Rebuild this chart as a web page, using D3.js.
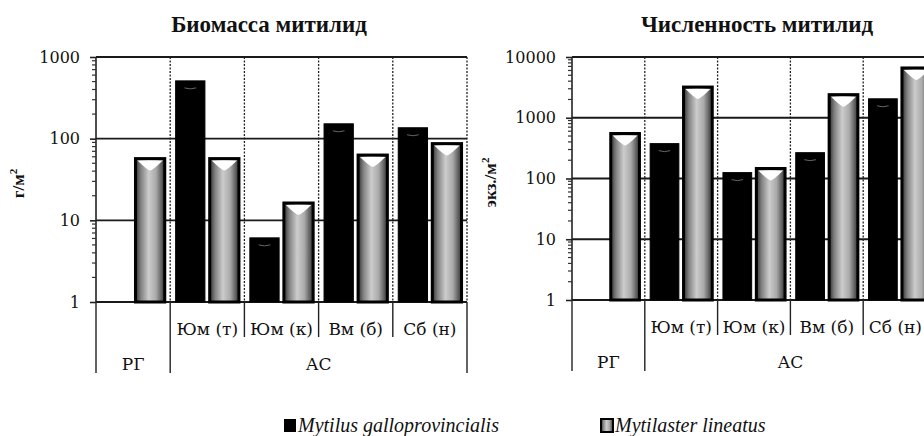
<!DOCTYPE html>
<html>
<head>
<meta charset="utf-8">
<script src="https://cdn.jsdelivr.net/npm/d3@7"></script>
<style>
body { margin: 0; background: #fff; }
text { font-family: "DejaVu Serif", serif; fill: #111; }
</style>
</head>
<body>
<svg class="canvas"></svg>
<script>
// categories and values
var categories = ["", "Юм (т)", "Юм (к)", "Вм (б)", "Сб (н)"];
var groupLabels = ["РГ", "АС"];
var groupSpans = [1, 4];
var series = ["Mytilus galloprovincialis", "Mytilaster lineatus"];

var biomassMytilus = [null, 510, 6.1, 152, 136];
var biomassMytilaster = [57, 57, 16.3, 63, 87];
var abundanceMytilus = [null, 375, 125, 266, 2050];
var abundanceMytilaster = [550, 3200, 146, 2400, 6600];

var biomassTicks = [1, 10, 100, 1000];
var abundanceTicks = [1, 10, 100, 1000, 10000];

var width = 924,
	height = 436;

var SUB_LINE = 35;   // length of divider below plot for categories
var GROUP_LINE = 71; // length of divider below plot for groups
var SERIF = "'Liberation Serif', 'Times New Roman', serif";

var canvas = d3.select(".canvas")
	.attr("width", width)
	.attr("height", height);

var defs = canvas.append("defs");
var grad = defs.append("linearGradient").attr("id", "greyBar")
	.attr("x1", "0%").attr("x2", "100%").attr("y1", "0%").attr("y2", "0%");
grad.selectAll("stop")
	.data([[0, "#303030"], [0.18, "#808080"], [0.45, "#cccccc"], [0.7, "#aaaaaa"], [1, "#333333"]])
	.enter().append("stop")
	.attr("offset", function(d) { return d[0]; })
	.attr("stop-color", function(d) { return d[1]; });

drawChart({
	left: 96, right: 467, top: 57, bottom: 302,
	domain: [1, 1000], ticks: biomassTicks,
	values: [biomassMytilus, biomassMytilaster],
	title: "Биомасса митилид", titleX: 269,
	yTitle: ["г/м", "2"], yTitleX: 24
});

drawChart({
	left: 572, right: 936, top: 57, bottom: 300,
	domain: [1, 10000], ticks: abundanceTicks,
	values: [abundanceMytilus, abundanceMytilaster],
	title: "Численность митилид", titleX: 757,
	yTitle: ["экз./м", "2"], yTitleX: 496
});

// legend
var legend = canvas.append("g").attr("transform", "translate(0,432)");
var legendX = [284, 601];
series.forEach(function(s, i) {
	var g = legend.append("g").attr("transform", "translate(" + legendX[i] + ",0)");
	g.append("rect")
		.attr("x", 0).attr("y", -13).attr("width", 12).attr("height", 13)
		.attr("fill", i == 0 ? "#000" : "url(#greyBar)")
		.attr("stroke", "#000").attr("stroke-width", i == 0 ? 0 : 2);
	g.append("text")
		.attr("x", 14).attr("y", 0)
		.style("font-family", SERIF)
		.style("font-size", "20px").style("font-style", "italic")
		.text(s);
});

function drawChart(o) {
	var chart = canvas.append("g");

	var x = d3.scaleBand().domain(d3.range(categories.length))
		.range([o.left, o.right])
		.paddingInner(0).paddingOuter(0);
	var x1 = d3.scaleBand().domain([0, 1])
		.range([0, x.bandwidth()])
		.paddingInner(0.14).paddingOuter(0.16);
	var y = d3.scaleLog().domain(o.domain).range([o.bottom, o.top]);

	// title
	chart.append("text")
		.attr("x", o.titleX).attr("y", 32)
		.attr("text-anchor", "middle")
		.style("font-family", SERIF)
		.style("font-size", "23px").style("font-weight", "bold")
		.text(o.title);

	// y title
	var yt = chart.append("text")
		.attr("transform", "translate(" + o.yTitleX + "," + ((o.top + o.bottom) / 2 + 4) + ") rotate(-90)")
		.attr("text-anchor", "middle")
		.style("font-family", SERIF)
		.style("font-size", "17px").style("font-weight", "bold");
	yt.append("tspan").text(o.yTitle[0]);
	yt.append("tspan").attr("dy", -7).style("font-size", "11px").text(o.yTitle[1]);

	// horizontal grid
	chart.selectAll(".hgrid").data(o.ticks)
		.enter().append("line")
		.attr("x1", o.left).attr("x2", o.right)
		.attr("y1", function(d) { return y(d); })
		.attr("y2", function(d) { return y(d); })
		.attr("stroke", "#1a1a1a").attr("stroke-width", 1.8);

	// vertical dividers inside plot (dotted)
	var bounds = d3.range(1, categories.length + 1).map(function(i) { return o.left + i * x.bandwidth(); });
	chart.selectAll(".vgrid").data(bounds)
		.enter().append("line")
		.attr("x1", function(d) { return d; }).attr("x2", function(d) { return d; })
		.attr("y1", o.top).attr("y2", o.bottom)
		.attr("stroke", "#222").attr("stroke-width", 1.3)
		.attr("stroke-dasharray", "2,1.5");

	// dividers below plot
	var groupEnds = [];
	var acc = 0;
	groupSpans.forEach(function(s) { acc += s; groupEnds.push(acc); });
	d3.range(0, categories.length + 1).forEach(function(i) {
		var isGroup = i == 0 || groupEnds.indexOf(i) >= 0;
		var xx = o.left + i * x.bandwidth();
		chart.append("line")
			.attr("x1", xx).attr("x2", xx)
			.attr("y1", o.bottom).attr("y2", o.bottom + (isGroup ? GROUP_LINE : SUB_LINE))
			.attr("stroke", "#222").attr("stroke-width", 1.4);
	});

	// category labels, kept inside the picture
	chart.selectAll(".cat").data(categories)
		.enter().append("text")
		.attr("x", function(d, i) { return x(i) + x.bandwidth() / 2; })
		.attr("y", o.bottom + 33)
		.attr("text-anchor", "middle")
		.style("font-size", "17px")
		.text(function(d) { return d; })
		.each(function() {
			var b = this.getBBox();
			if (b.x + b.width > width - 2) {
				d3.select(this).attr("x", +d3.select(this).attr("x") - (b.x + b.width - width + 2));
			}
		});

	// group labels
	var start = 0;
	groupLabels.forEach(function(g, i) {
		var cx = o.left + (start + groupSpans[i] / 2) * x.bandwidth();
		chart.append("text")
			.attr("x", cx).attr("y", o.bottom + 68)
			.attr("text-anchor", "middle")
			.style("font-size", "17px")
			.text(g);
		start += groupSpans[i];
	});

	// y axis with log ticks
	var axis = d3.axisLeft(y)
		.tickValues(o.ticks)
		.tickFormat(d3.format("d"))
		.tickSize(6)
		.tickPadding(10);
	var ax = chart.append("g")
		.attr("transform", "translate(" + o.left + ",0)")
		.call(axis);
	ax.select(".domain").remove();
	ax.selectAll("line").attr("stroke", "#222").attr("stroke-width", 1.6);
	ax.selectAll("text")
		.style("font-size", "16px")
		.style("font-family", "'DejaVu Serif', serif")
		.attr("fill", "#111");
	chart.append("line")
		.attr("x1", o.left).attr("x2", o.left)
		.attr("y1", o.top).attr("y2", o.bottom)
		.attr("stroke", "#222").attr("stroke-width", 1.6);

	// minor ticks
	var minor = y.ticks().filter(function(d) { return o.ticks.indexOf(d) < 0; });
	chart.selectAll(".minor").data(minor)
		.enter().append("line")
		.attr("x1", o.left - 4).attr("x2", o.left)
		.attr("y1", function(d) { return y(d); })
		.attr("y2", function(d) { return y(d); })
		.attr("stroke", "#333").attr("stroke-width", 1.2);

	// bars
	o.values.forEach(function(vals, si) {
		var bars = chart.selectAll(".bar" + si)
			.data(vals.map(function(v, i) { return { v: v, i: i }; }).filter(function(d) { return d.v != null; }))
			.enter().append("g");

		bars.append("rect")
			.attr("x", function(d) { return x(d.i) + x1(si); })
			.attr("y", function(d) { return y(d.v); })
			.attr("width", x1.bandwidth())
			.attr("height", function(d) { return y(o.domain[0]) - y(d.v); })
			.attr("fill", si == 0 ? "#000" : "url(#greyBar)")
			.attr("stroke", "#000")
			.attr("stroke-width", si == 0 ? 1 : 3);

		if (si == 0) {
			// small highlight near top of black bars
			bars.append("path")
				.attr("d", function(d) {
					var bx = x(d.i) + x1(si), by = y(d.v) + 7, w = x1.bandwidth();
					return "M" + (bx + w * 0.3) + "," + by + " Q" + (bx + w / 2) + "," + (by + 2) + " " + (bx + w * 0.7) + "," + by;
				})
				.attr("fill", "none").attr("stroke", "#666").attr("stroke-width", 1);
		} else {
			// white cap on grey bars
			bars.append("path")
				.attr("d", function(d) {
					var bx = x(d.i) + x1(si), by = y(d.v), w = x1.bandwidth();
					return "M" + (bx + 2) + "," + (by + 2) + " L" + (bx + w - 2) + "," + (by + 2) +
						" Q" + (bx + w * 0.62) + "," + (by + 11) + " " + (bx + w / 2) + "," + (by + 12) +
						" Q" + (bx + w * 0.38) + "," + (by + 11) + " " + (bx + 2) + "," + (by + 2) + "Z";
				})
				.attr("fill", "#fff");
		}
	});
}
</script>
</body>
</html>
